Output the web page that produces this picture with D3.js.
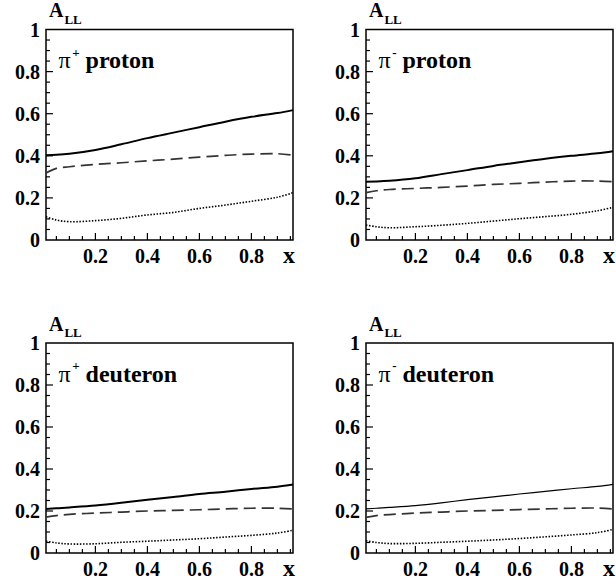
<!DOCTYPE html>
<html>
<head>
<meta charset="utf-8">
<script src="https://cdn.jsdelivr.net/npm/d3@7"></script>
<style>
  html, body { margin: 0; padding: 0; background: #fff; }
  svg { display: block; }
</style>
</head>
<body>
<svg id="chart" width="616" height="586"></svg>
<script>
// ---- data ----
const xValues = [0.01, 0.05, 0.1, 0.2, 0.3, 0.4, 0.5, 0.6, 0.7, 0.8, 0.9, 0.96];

const pipProtonSolid  = [0.403, 0.405, 0.410, 0.428, 0.455, 0.484, 0.510, 0.536, 0.562, 0.585, 0.603, 0.617];
const pipProtonDashed = [0.318, 0.340, 0.348, 0.359, 0.367, 0.376, 0.384, 0.394, 0.402, 0.408, 0.410, 0.403];
const pipProtonDotted = [0.111, 0.095, 0.087, 0.092, 0.103, 0.119, 0.131, 0.150, 0.166, 0.184, 0.203, 0.225];

const pimProtonSolid  = [0.277, 0.278, 0.281, 0.293, 0.313, 0.332, 0.352, 0.369, 0.386, 0.400, 0.412, 0.422];
const pimProtonDashed = [0.225, 0.234, 0.240, 0.245, 0.250, 0.256, 0.264, 0.269, 0.275, 0.280, 0.280, 0.277];
const pimProtonDotted = [0.071, 0.063, 0.058, 0.063, 0.070, 0.079, 0.090, 0.101, 0.111, 0.122, 0.139, 0.155];

const pipDeutSolid  = [0.210, 0.213, 0.217, 0.226, 0.239, 0.254, 0.267, 0.281, 0.292, 0.305, 0.316, 0.326];
const pipDeutDashed = [0.171, 0.178, 0.184, 0.190, 0.195, 0.200, 0.203, 0.206, 0.210, 0.213, 0.213, 0.210];
const pipDeutDotted = [0.056, 0.048, 0.043, 0.044, 0.051, 0.056, 0.062, 0.068, 0.076, 0.084, 0.095, 0.108];

const pimDeutSolid  = [0.210, 0.213, 0.217, 0.226, 0.239, 0.254, 0.267, 0.281, 0.293, 0.306, 0.317, 0.327];
const pimDeutDashed = [0.170, 0.178, 0.183, 0.190, 0.195, 0.200, 0.203, 0.207, 0.210, 0.213, 0.214, 0.210];
const pimDeutDotted = [0.058, 0.050, 0.045, 0.046, 0.051, 0.056, 0.062, 0.069, 0.077, 0.086, 0.097, 0.112];

const panelCharges = ["+", "-", "+", "-"];
const panelTargets = ["proton", "proton", "deuteron", "deuteron"];
const xTickLabels = [0.2, 0.4, 0.6, 0.8];
const yTickLabels = [0, 0.2, 0.4, 0.6, 0.8, 1];
const xDomain = [0.01, 0.96];
const yDomain = [0, 1];

const panelSeries = [
  [pipProtonSolid, pipProtonDashed, pipProtonDotted],
  [pimProtonSolid, pimProtonDashed, pimProtonDotted],
  [pipDeutSolid, pipDeutDashed, pipDeutDotted],
  [pimDeutSolid, pimDeutDashed, pimDeutDotted]
];

// ---- layout ----
const FONT = "'Liberation Serif', 'Times New Roman', serif";
const frames = [
  {x0: 46, x1: 293, y0: 29.5, y1: 240},
  {x0: 366, x1: 613, y0: 29.5, y1: 240},
  {x0: 46, x1: 293, y0: 343, y1: 553},
  {x0: 366, x1: 613, y0: 343, y1: 553}
];
const solidWidths = [2, 2, 2, 1.2];

const svg = d3.select("#chart").attr("font-family", FONT);

frames.forEach((f, i) => {
  const x = d3.scaleLinear().domain(xDomain).range([f.x0, f.x1]);
  const y = d3.scaleLinear().domain(yDomain).range([f.y1, f.y0]);
  const g = svg.append("g");

  const xMinor = d3.range(0.05, 0.96, 0.05).map(v => +v.toFixed(2));
  const yMinor = d3.range(0.05, 1.0, 0.05).map(v => +v.toFixed(2));
  const isMajor = v => Math.abs(v / 0.2 - Math.round(v / 0.2)) < 1e-6;

  g.selectAll(".xt").data(xMinor).enter().append("line")
    .attr("x1", d => x(d)).attr("x2", d => x(d))
    .attr("y1", f.y1).attr("y2", d => f.y1 - (isMajor(d) ? 7 : 4))
    .attr("stroke", "#000").attr("stroke-width", 1.2);
  g.selectAll(".yt").data(yMinor).enter().append("line")
    .attr("y1", d => y(d)).attr("y2", d => y(d))
    .attr("x1", f.x0).attr("x2", d => f.x0 + (isMajor(d) ? 7 : 4))
    .attr("stroke", "#000").attr("stroke-width", 1.2);

  g.append("rect")
    .attr("x", f.x0).attr("y", f.y0)
    .attr("width", f.x1 - f.x0).attr("height", f.y1 - f.y0)
    .attr("fill", "none").attr("stroke", "#000").attr("stroke-width", 1.5);

  g.selectAll(".xl").data(xTickLabels).enter().append("text")
    .attr("x", d => x(d)).attr("y", f.y1 + 23)
    .attr("text-anchor", "middle")
    .attr("font-size", 20).attr("font-weight", "bold")
    .text(d => d3.format(".1f")(d));
  g.selectAll(".yl").data(yTickLabels).enter().append("text")
    .attr("x", f.x0 - 6).attr("y", d => y(d) + 7)
    .attr("text-anchor", "end")
    .attr("font-size", 20).attr("font-weight", "bold")
    .text(d => d === 0 || d === 1 ? String(d) : d3.format(".1f")(d));

  g.append("text")
    .attr("x", f.x1 - 10).attr("y", f.y1 + 23)
    .attr("font-size", 24).attr("font-weight", "bold")
    .text("x");
  const at = g.append("text")
    .attr("x", f.x0 + 3).attr("y", f.y0 - 12.5)
    .attr("font-size", 20).attr("font-weight", "bold");
  at.append("tspan").text("A");
  at.append("tspan").attr("font-size", 13).attr("dy", 6.5).attr("dx", 1).text("LL");

  const lab = g.append("text")
    .attr("x", f.x0 + 12.5).attr("y", f.y0 + 38.5)
    .attr("font-size", 24);
  lab.append("tspan").text("π");
  lab.append("tspan").attr("font-size", 13).attr("dy", -11.5).attr("dx", 1.5)
    .attr("font-weight", "bold").text(panelCharges[i] === "-" ? "-" : "+");
  lab.append("tspan").attr("dy", 11.5).attr("dx", 6).attr("font-weight", "bold")
    .text(panelTargets[i]);

  const line = d3.line().x((d, k) => x(xValues[k])).y(d => y(d)).curve(d3.curveCatmullRom.alpha(0.5));
  const styles = [
    {dash: null, w: solidWidths[i], c: "#000"},
    {dash: "12,6", w: 1.7, c: "#333"},
    {dash: "1.5,1.6", w: 1.6, c: "#000"}
  ];
  panelSeries[i].forEach((s, k) => {
    g.append("path")
      .attr("d", line(s))
      .attr("fill", "none")
      .attr("stroke", styles[k].c)
      .attr("stroke-width", styles[k].w)
      .attr("stroke-dasharray", styles[k].dash);
  });
});
</script>
</body>
</html>
